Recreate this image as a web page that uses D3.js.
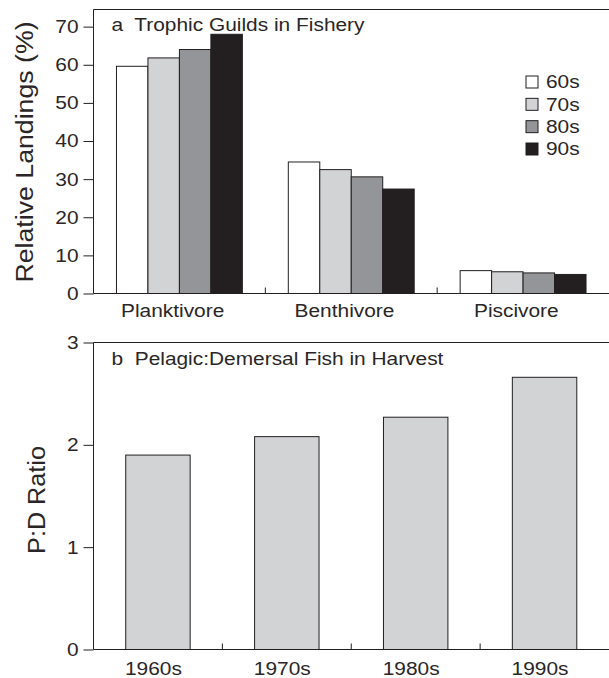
<!DOCTYPE html>
<html>
<head>
<meta charset="utf-8">
<script src="https://cdn.jsdelivr.net/npm/d3@7"></script>
<style>
  body { margin: 0; background: #fff; overflow: hidden; }
  svg { display: block; font-family: "Liberation Sans", Arial, Helvetica, sans-serif; }
  text { fill: #2a2627; }
</style>
</head>
<body>
<svg id="chart" width="609" height="678"></svg>
<script>
// panel a data
const guilds = ["Planktivore", "Benthivore", "Piscivore"];
const decades = ["60s", "70s", "80s", "90s"];
const landings60s = [59.6, 34.5, 6.0];
const landings70s = [61.8, 32.5, 5.7];
const landings80s = [64.0, 30.6, 5.4];
const landings90s = [68.0, 27.4, 5.0];
const ticksA = [0, 10, 20, 30, 40, 50, 60, 70];

// panel b data
const periods = ["1960s", "1970s", "1980s", "1990s"];
const pdRatio = [1.90, 2.08, 2.27, 2.66];
const ticksB = [0, 1, 2, 3];

const fills = ["#ffffff", "#d1d3d4", "#939598", "#231f20"];
const ink = "#231f20";
const fontSize = 18.5;
const stretchK = 1.13;

const svg = d3.select("#chart");

// the lettering in the original is wider than Arial, so widen it along the text
function stretch(sel, k) {
  sel.each(function () {
    const t = d3.select(this);
    const x = +t.attr("x") || 0;
    const prev = t.attr("transform") || "";
    t.attr("transform", `${prev} translate(${x},0) scale(${k},1) translate(${-x},0)`);
  });
}

function frame(g, x0, x1, yTop, yBottom) {
  g.append("line").attr("x1", x0).attr("x2", x1).attr("y1", yTop).attr("y2", yTop);
  g.append("line").attr("x1", x0).attr("x2", x0).attr("y1", yTop).attr("y2", yBottom);
  g.append("line").attr("x1", x0).attr("x2", x1).attr("y1", yBottom).attr("y2", yBottom);
  g.selectAll("line").attr("stroke", ink).attr("stroke-width", 1);
}

function styleAxis(g, k) {
  g.select(".domain").remove();
  g.selectAll(".tick line").attr("stroke", ink);
  g.selectAll(".tick text")
    .attr("fill", null)
    .style("font-size", fontSize + "px");
  g.attr("font-family", null).attr("font-size", null);
  stretch(g.selectAll(".tick text"), k);
}

// ---------- panel a ----------
const left = 93.5, right = 609;
const yA = d3.scaleLinear().domain([0, 74.5]).range([293.5, 9.5]);
const xA = d3.scaleBand().domain(guilds).range([left, right]).padding(0);
const xInner = d3.scaleBand().domain(decades).range([0, xA.bandwidth()]).paddingOuter(0.73);

const series = [landings60s, landings70s, landings80s, landings90s];
const barsA = svg.append("g");
decades.forEach((dec, i) => {
  barsA.append("g")
    .selectAll("rect")
    .data(guilds.map((g, j) => ({ guild: g, value: series[i][j] })))
    .join("rect")
      .attr("x", d => xA(d.guild) + xInner(dec))
      .attr("y", d => yA(d.value))
      .attr("width", xInner.bandwidth())
      .attr("height", d => yA(0) - yA(d.value))
      .attr("fill", fills[i])
      .attr("stroke", ink)
      .attr("stroke-width", 1);
});

svg.append("g")
  .attr("transform", `translate(${left},0)`)
  .call(d3.axisLeft(yA).tickValues(ticksA).tickSize(10).tickPadding(5))
  .call(g => styleAxis(g, stretchK));

svg.append("g")
  .attr("transform", `translate(0,${yA(0)})`)
  .call(d3.axisBottom(xA).tickSize(0).tickPadding(10))
  .call(g => styleAxis(g, stretchK))
  .call(g => g.selectAll(".tick text").attr("dx", -6));

// inward ticks at the group boundaries
svg.append("g")
  .selectAll("line")
  .data(guilds.slice(1))
  .join("line")
    .attr("x1", d => xA(d)).attr("x2", d => xA(d))
    .attr("y1", yA(0)).attr("y2", yA(0) - 6)
    .attr("stroke", ink);

frame(svg.append("g"), left, right, yA(74.5), yA(0));

svg.append("text")
  .attr("x", 111.5).attr("y", 31.5)
  .style("font-size", fontSize + "px")
  .style("white-space", "pre")
  .text("a  Trophic Guilds in Fishery")
  .call(stretch, stretchK);

svg.append("text")
  .attr("transform", `translate(33,152) rotate(-90)`)
  .attr("text-anchor", "middle")
  .style("font-size", "24.5px")
  .text("Relative Landings (%)")
  .call(stretch, 1.09);

// legend
const legendY = d3.scalePoint().domain(decades).range([82, 149]);
const legend = svg.append("g")
  .selectAll("g")
  .data(decades)
  .join("g")
    .attr("transform", d => `translate(526,${legendY(d)})`);
legend.append("rect")
  .attr("x", 0).attr("y", -6)
  .attr("width", 12).attr("height", 12)
  .attr("fill", (d, i) => fills[i])
  .attr("stroke", ink);
legend.append("text")
  .attr("x", 20).attr("dy", "0.35em")
  .style("font-size", fontSize + "px")
  .text(d => d)
  .call(stretch, stretchK);

// ---------- panel b ----------
const yB = d3.scaleLinear().domain([0, 3]).range([649.5, 342.5]);
const xB = d3.scaleBand().domain(periods).range([left, right]).paddingInner(0.5).paddingOuter(0.25);

svg.append("g")
  .selectAll("rect")
  .data(periods.map((p, i) => ({ period: p, value: pdRatio[i] })))
  .join("rect")
    .attr("x", d => xB(d.period))
    .attr("y", d => yB(d.value))
    .attr("width", xB.bandwidth())
    .attr("height", d => yB(0) - yB(d.value))
    .attr("fill", fills[1])
    .attr("stroke", ink)
    .attr("stroke-width", 1);

svg.append("g")
  .attr("transform", `translate(${left},0)`)
  .call(d3.axisLeft(yB).tickValues(ticksB).tickFormat(d3.format("d")).tickSize(10).tickPadding(5))
  .call(g => styleAxis(g, stretchK));

svg.append("g")
  .attr("transform", `translate(0,${yB(0)})`)
  .call(d3.axisBottom(xB).tickSize(0).tickPadding(12))
  .call(g => styleAxis(g, stretchK))
  .call(g => g.selectAll(".tick text").attr("dx", -4));

svg.append("g")
  .selectAll("line")
  .data(periods.slice(1))
  .join("line")
    .attr("x1", d => xB(d) - xB.step() * xB.paddingInner() / 2)
    .attr("x2", d => xB(d) - xB.step() * xB.paddingInner() / 2)
    .attr("y1", yB(0)).attr("y2", yB(0) - 6)
    .attr("stroke", ink);

frame(svg.append("g"), left, right, yB(3), yB(0));

svg.append("text")
  .attr("x", 111.5).attr("y", 365)
  .style("font-size", fontSize + "px")
  .style("white-space", "pre")
  .text("b  Pelagic:Demersal Fish in Harvest")
  .call(stretch, stretchK);

svg.append("text")
  .attr("transform", `translate(45,500) rotate(-90)`)
  .attr("text-anchor", "middle")
  .style("font-size", "24px")
  .text("P:D Ratio")
  .call(stretch, 1.05);
</script>
</body>
</html>
